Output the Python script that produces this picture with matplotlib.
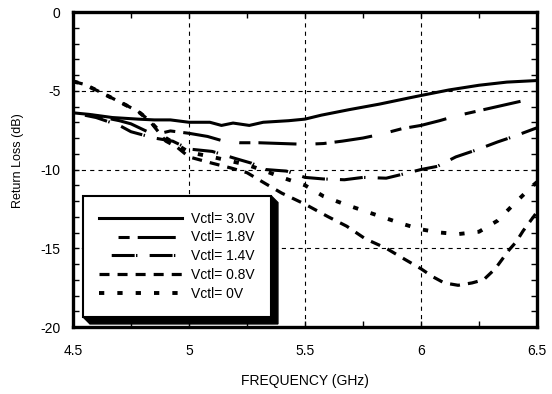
import matplotlib
matplotlib.use("Agg")
import matplotlib.pyplot as plt
from matplotlib.patches import Polygon
from matplotlib.ticker import MultipleLocator, FormatStrFormatter

plt.rcParams.update({
    "font.family": ["Liberation Sans", "DejaVu Sans"],
    "font.size": 10,
    "axes.unicode_minus": False,
    "lines.scale_dashes": False,
})

# --- 数据 ---
f_30 = [4.5, 4.57, 4.67, 4.78, 4.85, 4.92, 5.0, 5.09, 5.14, 5.19, 5.26, 5.32, 5.43, 5.5,
        5.57, 5.69, 5.82, 5.95, 6.0, 6.12, 6.25, 6.37, 6.5]
rl_30 = [-6.4, -6.5, -6.7, -6.8, -6.85, -6.85, -7.0, -7.0, -7.2, -7.05, -7.2, -7.0, -6.9, -6.8,
         -6.55, -6.2, -5.85, -5.45, -5.3, -4.95, -4.65, -4.45, -4.35]

f_18 = [4.5, 4.6, 4.7, 4.75, 4.85, 4.92, 5.0, 5.08, 5.15, 5.22, 5.3, 5.4, 5.5, 5.58, 5.66,
        5.75, 5.83, 5.92, 6.0, 6.08, 6.15, 6.24, 6.33, 6.42, 6.5]
rl_18 = [-6.4, -6.6, -6.9, -7.1, -7.8, -7.55, -7.7, -7.9, -8.2, -8.3, -8.3, -8.35, -8.4, -8.35, -8.2,
         -8.0, -7.75, -7.4, -7.2, -6.9, -6.6, -6.3, -6.0, -5.7, -5.45]

f_14 = [4.5, 4.6, 4.7, 4.75, 4.85, 4.93, 5.0, 5.1, 5.2, 5.27, 5.33, 5.42, 5.5, 5.58, 5.67,
        5.75, 5.85, 5.92, 6.0, 6.07, 6.15, 6.24, 6.33, 6.4, 6.5]
rl_14 = [-6.4, -6.7, -7.2, -7.6, -8.0, -8.2, -8.7, -8.85, -9.3, -9.6, -10.0, -10.1, -10.5, -10.6, -10.65,
         -10.5, -10.55, -10.3, -10.0, -9.8, -9.2, -8.75, -8.25, -7.9, -7.35]

f_08 = [4.5, 4.55, 4.62, 4.7, 4.78, 4.83, 4.9, 4.95, 5.0, 5.1, 5.18, 5.25, 5.33, 5.4, 5.5,
        5.6, 5.68, 5.76, 5.85, 5.93, 6.0, 6.05, 6.1, 6.16, 6.22, 6.27, 6.32, 6.35, 6.38, 6.41,
        6.44, 6.47, 6.5]
rl_08 = [-4.4, -4.6, -5.1, -5.7, -6.3, -6.9, -8.2, -8.6, -9.2, -9.6, -9.9, -10.2, -10.9, -11.5, -12.2,
         -13.0, -13.6, -14.4, -15.0, -15.7, -16.3, -16.8, -17.2, -17.35, -17.2, -17.0, -16.3, -15.7,
         -15.1, -14.6, -13.9, -13.3, -12.7]

f_00 = [4.5, 4.55, 4.62, 4.7, 4.78, 4.83, 4.9, 5.0, 5.1, 5.25, 5.33, 5.4, 5.5, 5.58, 5.67,
        5.75, 5.83, 5.92, 6.0, 6.08, 6.16, 6.25, 6.33, 6.4, 6.48, 6.5]
rl_00 = [-4.4, -4.6, -5.1, -5.7, -6.3, -6.9, -8.0, -8.9, -9.2, -9.7, -10.1, -10.5, -11.0, -11.7, -12.2,
         -12.6, -13.0, -13.45, -13.8, -14.0, -14.1, -13.95, -13.25, -12.2, -11.05, -10.8]

labels = ["Vctl= 3.0V", "Vctl= 1.8V", "Vctl= 1.4V", "Vctl= 0.8V", "Vctl= 0V"]

# 线型 (单位: pt) 与线宽
styles = [
    "-",
    (27.4, (27.4, 13.7, 8.0, 5.8)),
    (18.5, (16.5, 1.0, 1.0, 8.8)),
    (0, (7.2, 5.8)),
    (0, (3.8, 9.4)),
]
widths = [2.2, 2.2, 2.2, 2.3, 2.8]

fig = plt.figure(figsize=(5.52, 3.94), dpi=100)
ax = fig.add_axes([0.1322, 0.170, 0.8406, 0.7995])

series = [(f_30, rl_30), (f_18, rl_18), (f_14, rl_14), (f_08, rl_08), (f_00, rl_00)]
for (f, rl), ls, lw, lab in zip(series, styles, widths, labels):
    ax.plot(f, rl, color="black", linestyle=ls, linewidth=lw, label=lab)

ax.set_xlim(4.5, 6.5)
ax.set_ylim(-20, 0)
ax.xaxis.set_major_locator(MultipleLocator(0.5))
ax.xaxis.set_minor_locator(MultipleLocator(0.25))
ax.yaxis.set_major_locator(MultipleLocator(5))
ax.yaxis.set_minor_locator(MultipleLocator(1))
ax.xaxis.set_major_formatter(FormatStrFormatter("%g"))
ax.yaxis.set_major_formatter(FormatStrFormatter("%g"))

ax.tick_params(which="both", direction="in", top=True, right=True, length=4, width=1)
ax.tick_params(axis="x", pad=12, labelsize=10)
ax.tick_params(axis="y", pad=9, labelsize=10)
for sp in ax.spines.values():
    sp.set_linewidth(2.4)

ax.grid(True, which="major", color="black", linewidth=0.8, linestyle=(0, (3, 3)))

ax.set_xlabel("FREQUENCY (GHz)", fontsize=10, labelpad=12)
ax.set_ylabel("Return Loss (dB)", fontsize=9)
ax.yaxis.set_label_coords(-0.106, 0.527)

leg = ax.legend(loc="lower left", bbox_to_anchor=(0.0216, 0.032), borderaxespad=0,
                frameon=True, fancybox=False, edgecolor="black", framealpha=1,
                handlelength=6.0, handletextpad=0.65, labelspacing=0.35,
                borderpad=1.15, fontsize=10)
leg.get_frame().set_linewidth(1.5)
leg.set_zorder(5)

# 图例的立体阴影
fig.canvas.draw()
bb = leg.get_frame().get_window_extent()
d = 7
x0, y0, x1, y1 = bb.x0, bb.y0, bb.x1, bb.y1
pts = [(x1, y1), (x1 + d, y1 - d), (x1 + d, y0 - d), (x0 + d, y0 - d), (x0, y0), (x1, y0)]
shadow = Polygon(ax.transAxes.inverted().transform(pts), closed=True, transform=ax.transAxes,
                 facecolor="black", edgecolor="black", zorder=4.9, clip_on=False)
ax.add_patch(shadow)

fig.savefig("out.png", dpi=100)
